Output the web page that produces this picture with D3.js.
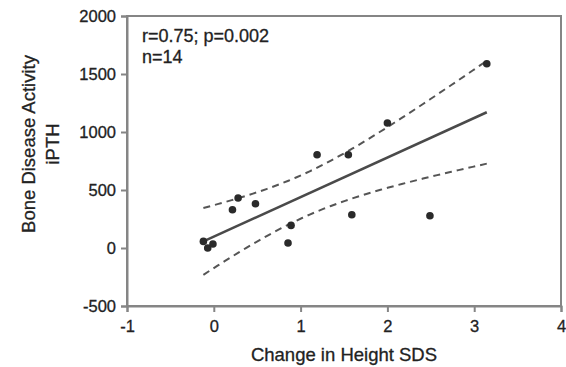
<!DOCTYPE html>
<html><head><meta charset="utf-8">
<script src="https://cdn.jsdelivr.net/npm/d3@7"></script>
<style>body{margin:0;background:#fff}svg{display:block}text{font-family:"Liberation Sans",Arial,sans-serif;fill:#222;stroke:#222;stroke-width:0.3px}</style>
</head><body><svg id="c" width="566" height="367"></svg>
<script>
const xVals = [-0.12,-0.07,-0.01,0.215,0.28,0.48,0.855,0.89,1.19,1.55,1.59,2.0,2.49,3.145];
const yVals = [57,0,34,330,431,382,43,195,804,804,287,1077,278,1589];
const xTicks = [-1,0,1,2,3,4];
const yTicks = [-500,0,500,1000,1500,2000];
const statLines = ["r=0.75; p=0.002","n=14"];
const xLabel = "Change in Height SDS";
const yLabel = ["Bone Disease Activity","iPTH"];

const svg = d3.select("#c");
const L=127,R=561,T=16,B=306;
const x = d3.scaleLinear().domain([-1,4]).range([L,R]);
const y = d3.scaleLinear().domain([-500,2000]).range([B,T]);
const gray="#858585";

// regression + 95% CI of mean
const n=xVals.length;
const mx=d3.mean(xVals), my=d3.mean(yVals);
let sxx=0,sxy=0; xVals.forEach((v,i)=>{sxx+=(v-mx)**2;sxy+=(v-mx)*(yVals[i]-my);});
const b=sxy/sxx, a=my-b*mx;
let sse=0; xVals.forEach((v,i)=>{sse+=(yVals[i]-a-b*v)**2;});
const s=Math.sqrt(sse/(n-2)), t=2.179;
const x0=d3.min(xVals), x1=d3.max(xVals);
const xs=d3.range(0,41).map(k=>x0+(x1-x0)*k/40);
const ci=v=>t*s*Math.sqrt(1/n+(v-mx)**2/sxx);

const line=d3.line().x(d=>x(d[0])).y(d=>y(d[1]));
svg.append("path").attr("d",line(xs.map(v=>[v,a+b*v+ci(v)]))).attr("fill","none").attr("stroke","#555").attr("stroke-width",2).attr("stroke-dasharray","7,5");
svg.append("path").attr("d",line(xs.map(v=>[v,a+b*v-ci(v)]))).attr("fill","none").attr("stroke","#555").attr("stroke-width",2).attr("stroke-dasharray","7,5");
svg.append("path").attr("d",line([[x0,a+b*x0],[x1,a+b*x1]])).attr("fill","none").attr("stroke","#4a4a4a").attr("stroke-width",2.5);

svg.append("g").selectAll("circle").data(xVals).join("circle")
  .attr("cx",d=>x(d)).attr("cy",(d,i)=>y(yVals[i])).attr("r",3.8).attr("fill","#2a2a2a");

// frame
svg.append("rect").attr("x",L).attr("y",T).attr("width",R-L).attr("height",B-T).attr("fill","none").attr("stroke",gray).attr("stroke-width",2);

const fmt=d=>String(d);
const xa=svg.append("g").attr("transform",`translate(0,${B})`).call(d3.axisBottom(x).tickValues(xTicks).tickSize(6).tickPadding(8).tickFormat(fmt));
const ya=svg.append("g").attr("transform",`translate(${L},0)`).call(d3.axisLeft(y).tickValues(yTicks).tickSize(6).tickPadding(5).tickFormat(fmt));
[xa,ya].forEach(g=>{g.select(".domain").attr("stroke",gray).attr("stroke-width",2);g.selectAll(".tick line").attr("stroke",gray).attr("stroke-width",2);g.selectAll("text").attr("font-size",16.5).attr("fill","#222").attr("font-family","Liberation Sans, Arial, sans-serif");});

svg.append("text").attr("x",344).attr("y",361).attr("text-anchor","middle").attr("font-size",18.5).text(xLabel);
yLabel.forEach((l,i)=>svg.append("text").attr("transform",`translate(${35+i*24},144) rotate(-90)`).attr("text-anchor","middle").attr("font-size",18.5).text(l));
statLines.forEach((l,i)=>svg.append("text").attr("x",142).attr("y",42+i*21).attr("font-size",18).text(l));
</script></body></html>
